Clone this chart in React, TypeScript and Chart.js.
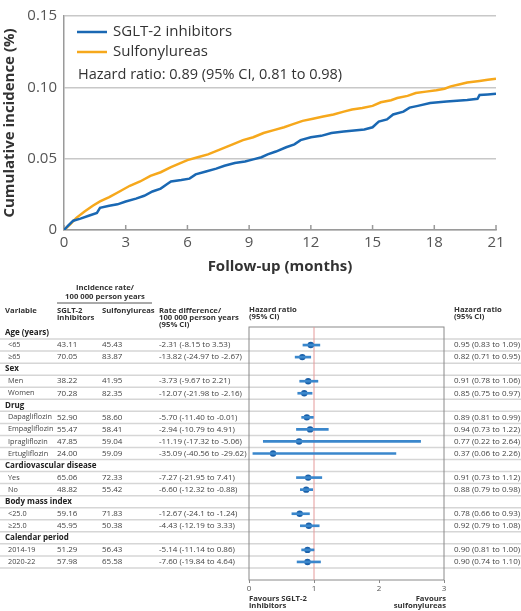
import React, { useEffect, useRef } from "react";
import { Chart, registerables } from "chart.js";

Chart.register(...registerables);

const FONT = "'Open Sans', 'Noto Sans', sans-serif";
const BLUE = "#1a68b3";
const ORANGE = "#f6a81c";
const BAR_BLUE = "#3a87cc";
const DOT_BLUE = "#1a5fa8";

// ---------- Cumulative incidence (top) ----------
const sgltMonths = [0, 0.2, 0.45, 0.8, 1.2, 1.6, 1.75, 2.2, 2.6, 3.0, 3.5, 3.9, 4.3, 4.7, 5.0, 5.2, 5.7, 6.1, 6.4, 6.9, 7.4, 7.8, 8.3, 8.8, 9.2, 9.6, 9.9, 10.3, 10.8, 11.2, 11.5, 12.0, 12.5, 13.0, 13.6, 14.6, 15.0, 15.3, 15.7, 16.0, 16.5, 16.8, 17.2, 17.8, 18.6, 19.6, 20.1, 20.2, 20.6, 21.0];
const sgltIncidence = [0, 0.003, 0.0065, 0.008, 0.010, 0.012, 0.0155, 0.017, 0.018, 0.020, 0.022, 0.024, 0.027, 0.029, 0.032, 0.034, 0.035, 0.036, 0.039, 0.041, 0.043, 0.045, 0.047, 0.048, 0.0495, 0.051, 0.053, 0.055, 0.058, 0.060, 0.063, 0.065, 0.066, 0.068, 0.069, 0.0705, 0.072, 0.076, 0.0775, 0.081, 0.083, 0.0858, 0.087, 0.089, 0.090, 0.0912, 0.092, 0.0946, 0.095, 0.0955];
const sulfMonths = [0, 0.3, 0.6, 1.0, 1.4, 1.75, 2.2, 2.7, 3.2, 3.7, 4.2, 4.7, 5.2, 5.6, 6.0, 6.5, 7.0, 7.6, 8.2, 8.7, 9.2, 9.7, 10.2, 10.7, 11.1, 11.6, 12.1, 12.6, 13.1, 13.6, 14.0, 14.5, 15.0, 15.4, 15.9, 16.2, 16.7, 17.1, 17.6, 18.1, 18.5, 18.8, 19.2, 19.6, 20.2, 20.6, 21.0];
const sulfIncidence = [0, 0.004, 0.0085, 0.013, 0.017, 0.020, 0.023, 0.027, 0.031, 0.034, 0.038, 0.0405, 0.044, 0.0465, 0.049, 0.051, 0.053, 0.0565, 0.060, 0.063, 0.065, 0.068, 0.070, 0.072, 0.074, 0.0765, 0.078, 0.0795, 0.081, 0.083, 0.0845, 0.0855, 0.087, 0.0895, 0.091, 0.0925, 0.094, 0.096, 0.097, 0.098, 0.099, 0.1007, 0.102, 0.1034, 0.1045, 0.1053, 0.106];
const monthTicks = [0, 3, 6, 9, 12, 15, 18, 21];
const incidenceTicks = [0, 0.05, 0.1, 0.15];
const seriesLabels = ["SGLT-2 inhibitors", "Sulfonylureas"];
const hazardNote = "Hazard ratio: 0.89 (95% CI, 0.81 to 0.98)";

// ---------- Forest table (bottom) ----------
const rowLabels = ["Age (years)", "<65", "≥65", "Sex", "Men", "Women", "Drug", "Dapagliflozin", "Empagliflozin", "Ipragliflozin", "Ertugliflozin", "Cardiovascular disease", "Yes", "No", "Body mass index", "<25.0", "≥25.0", "Calendar period", "2014-19", "2020-22", ""];
const isSection = [true, false, false, true, false, false, true, false, false, false, false, true, false, false, true, false, false, true, false, false, false];
const sgltRate = ["", "43.11", "70.05", "", "38.22", "70.28", "", "52.90", "55.47", "47.85", "24.00", "", "65.06", "48.82", "", "59.16", "45.95", "", "51.29", "57.98", ""];
const sulfRate = ["", "45.43", "83.87", "", "41.95", "82.35", "", "58.60", "58.41", "59.04", "59.09", "", "72.33", "55.42", "", "71.83", "50.38", "", "56.43", "65.58", ""];
const rateDiff = ["", "-2.31 (-8.15 to 3.53)", "-13.82 (-24.97 to -2.67)", "", "-3.73 (-9.67 to 2.21)", "-12.07 (-21.98 to -2.16)", "", "-5.70 (-11.40 to -0.01)", "-2.94 (-10.79 to 4.91)", "-11.19 (-17.32 to -5.06)", "-35.09 (-40.56 to -29.62)", "", "-7.27 (-21.95 to 7.41)", "-6.60 (-12.32 to -0.88)", "", "-12.67 (-24.1 to -1.24)", "-4.43 (-12.19 to 3.33)", "", "-5.14 (-11.14 to 0.86)", "-7.60 (-19.84 to 4.64)", ""];
const hr = [null, 0.95, 0.82, null, 0.91, 0.85, null, 0.89, 0.94, 0.77, 0.37, null, 0.91, 0.88, null, 0.78, 0.92, null, 0.90, 0.90, null];
const hrLo = [null, 0.83, 0.71, null, 0.78, 0.75, null, 0.81, 0.73, 0.22, 0.06, null, 0.73, 0.79, null, 0.66, 0.79, null, 0.81, 0.74, null];
const hrHi = [null, 1.09, 0.95, null, 1.06, 0.97, null, 0.99, 1.22, 2.64, 2.26, null, 1.12, 0.98, null, 0.93, 1.08, null, 1.00, 1.10, null];
const hrAxisTicks = [0, 1, 2, 3];

const fmt = (v: number | null) => (v == null ? "" : v.toFixed(2));

const kmTicksPlugin = {
  id: "kmTicks",
  beforeDatasetsDraw(chart: any) {
    const { ctx, chartArea, scales } = chart;
    ctx.save();
    ctx.strokeStyle = "#9a9a9a";
    ctx.lineWidth = 1.5;
    scales.x.ticks.forEach((t: any) => {
      const px = scales.x.getPixelForValue(t.value);
      ctx.beginPath();
      ctx.moveTo(px, chartArea.bottom);
      ctx.lineTo(px, chartArea.bottom - 5);
      ctx.stroke();
    });
    ctx.restore();
  },
};

const kmLegendPlugin = {
  id: "kmLegend",
  afterDatasetsDraw(chart: any) {
    const { ctx, chartArea } = chart;
    const x0 = chartArea.left + 13;
    ctx.save();
    ctx.font = `15px ${FONT}`;
    ctx.textBaseline = "middle";
    chart.data.datasets.forEach((ds: any, i: number) => {
      const y = chartArea.top + 16 + i * 20;
      ctx.strokeStyle = ds.borderColor;
      ctx.lineWidth = 2.5;
      ctx.beginPath();
      ctx.moveTo(x0, y);
      ctx.lineTo(x0 + 30, y);
      ctx.stroke();
      ctx.fillStyle = "#333";
      ctx.fillText(ds.label, x0 + 36, y);
    });
    ctx.fillStyle = "#333";
    ctx.font = `14.5px ${FONT}`;
    ctx.fillText(hazardNote, chartArea.left + 14, chartArea.top + 59);
    ctx.restore();
  },
};

const tablePlugin = {
  id: "forestTable",
  beforeDatasetsDraw(chart: any) {
    const { ctx, chartArea, scales, width } = chart;
    const ys = scales.y;
    const xs = scales.x;
    ctx.save();
    // row separators
    ctx.strokeStyle = "#d6d6d6";
    ctx.lineWidth = 1.5;
    for (let i = 0; i < rowLabels.length - 1; i++) {
      const y = (ys.getPixelForValue(i) + ys.getPixelForValue(i + 1)) / 2;
      ctx.beginPath();
      ctx.moveTo(0, y);
      ctx.lineTo(width, y);
      ctx.stroke();
    }
    // box
    ctx.strokeStyle = "#8a8a8a";
    ctx.lineWidth = 1;
    ctx.strokeRect(chartArea.left, chartArea.top, chartArea.right - chartArea.left, chartArea.bottom - chartArea.top);
    // null line
    const x1 = xs.getPixelForValue(1);
    ctx.strokeStyle = "#e59a9a";
    ctx.lineWidth = 1;
    ctx.beginPath();
    ctx.moveTo(x1, chartArea.top);
    ctx.lineTo(x1, chartArea.bottom);
    ctx.stroke();

    // table text
    ctx.textBaseline = "middle";
    const body = `8px ${FONT}`;
    const label = `7.3px ${FONT}`;
    const bold = `bold 7.7px ${FONT}`;
    rowLabels.forEach((lab, i) => {
      const y = ys.getPixelForValue(i);
      if (isSection[i]) {
        ctx.font = `bold 8px ${FONT}`;
        ctx.fillStyle = "#222";
        ctx.fillText(lab, 5, y);
      } else if (lab) {
        ctx.fillStyle = "#444";
        ctx.font = label;
        ctx.fillText(lab, 8, y);
        ctx.font = body;
        ctx.fillText(sgltRate[i], 57, y);
        ctx.fillText(sulfRate[i], 102, y);
        ctx.fillText(rateDiff[i], 159, y);
        ctx.fillText(`${fmt(hr[i])} (${fmt(hrLo[i])} to ${fmt(hrHi[i])})`, 454, y);
      }
    });

    // headers
    const top = chartArea.top;
    ctx.font = bold;
    ctx.fillStyle = "#333";
    ctx.textAlign = "center";
    ctx.fillText("Incidence rate/", 105, top - 39);
    ctx.fillText("100 000 person years", 105, top - 30);
    ctx.strokeStyle = "#555";
    ctx.lineWidth = 1;
    ctx.beginPath();
    ctx.moveTo(57, top - 24);
    ctx.lineTo(152, top - 24);
    ctx.stroke();
    ctx.textAlign = "left";
    ctx.fillText("Variable", 5, top - 16);
    ctx.fillText("SGLT-2", 57, top - 16);
    ctx.fillText("inhibitors", 57, top - 9);
    ctx.fillText("Sulfonylureas", 102, top - 16);
    ctx.fillText("Rate difference/", 159, top - 16);
    ctx.fillText("100 000 person years", 159, top - 9);
    ctx.fillText("(95% CI)", 159, top - 2);
    ctx.fillText("Hazard ratio", chartArea.left, top - 17);
    ctx.fillText("(95% CI)", chartArea.left, top - 10);
    ctx.fillText("Hazard ratio", 454, top - 17);
    ctx.fillText("(95% CI)", 454, top - 10);

    // footer
    const b = chartArea.bottom;
    ctx.fillText("Favours SGLT-2", chartArea.left, b + 19);
    ctx.fillText("inhibitors", chartArea.left, b + 26);
    ctx.textAlign = "right";
    ctx.fillText("Favours", chartArea.right + 2, b + 19);
    ctx.fillText("sulfonylureas", chartArea.right + 2, b + 26);
    ctx.restore();
  },
};

export default function App() {
  const kmRef = useRef<HTMLCanvasElement>(null);
  const forestRef = useRef<HTMLCanvasElement>(null);

  useEffect(() => {
    Chart.defaults.font.family = FONT;
    const km = new Chart(kmRef.current as HTMLCanvasElement, {
      type: "line",
      data: {
        datasets: [
          {
            label: seriesLabels[0],
            data: sgltMonths.map((m, i) => ({ x: m, y: sgltIncidence[i] })),
            borderColor: BLUE,
            borderWidth: 2.5,
            pointRadius: 0,
            fill: false,
          },
          {
            label: seriesLabels[1],
            data: sulfMonths.map((m, i) => ({ x: m, y: sulfIncidence[i] })),
            borderColor: ORANGE,
            borderWidth: 2.5,
            pointRadius: 0,
            fill: false,
          },
        ],
      },
      options: {
        animation: false,
        responsive: false,
        layout: { padding: { top: 8, right: 25, left: 0, bottom: 0 } },
        plugins: { legend: { display: false }, tooltip: { enabled: false } },
        scales: {
          x: {
            type: "linear",
            min: 0,
            max: 21,
            afterBuildTicks: (s: any) => {
              s.ticks = monthTicks.map((v) => ({ value: v }));
            },
            afterFit: (s: any) => {
              s.height = 46;
            },
            grid: { display: false, drawTicks: false },
            border: { display: true, color: "#9a9a9a", width: 1.5 },
            ticks: { font: { size: 15 }, color: "#555", padding: 4, maxRotation: 0 },
            title: {
              display: true,
              text: "Follow-up (months)",
              font: { size: 15, weight: "bold" },
              color: "#333",
              padding: { top: 0, bottom: 0 },
            },
          },
          y: {
            type: "linear",
            min: 0,
            max: 0.15,
            afterBuildTicks: (s: any) => {
              s.ticks = incidenceTicks.map((v) => ({ value: v }));
            },
            afterFit: (s: any) => {
              s.width = 64;
            },
            grid: { color: "#c8c8c8", lineWidth: 1.5, drawTicks: false },
            border: { display: true, color: "#9a9a9a", width: 1.5 },
            ticks: {
              font: { size: 15 },
              color: "#555",
              padding: 7,
              callback: (v: any) => (v === 0 ? "0" : Number(v).toFixed(2)),
            },
            title: {
              display: true,
              text: "Cumulative incidence (%)",
              font: { size: 15, weight: "bold" },
              color: "#333",
              padding: { top: 1, bottom: 0 },
            },
          },
        },
      } as any,
      plugins: [kmTicksPlugin, kmLegendPlugin],
    });

    const forest = new Chart(forestRef.current as HTMLCanvasElement, {
      type: "bar",
      data: {
        labels: rowLabels,
        datasets: [
          {
            type: "bar",
            data: hrLo.map((lo, i) => (lo == null ? null : [lo, hrHi[i] as number])) as any,
            backgroundColor: BAR_BLUE,
            barThickness: 2,
            borderWidth: 0,
          },
          {
            type: "line",
            indexAxis: "y",
            data: hr as any,
            showLine: false,
            pointRadius: 3.2,
            pointBackgroundColor: DOT_BLUE,
            pointBorderWidth: 0,
          } as any,
        ],
      },
      options: {
        animation: false,
        responsive: false,
        indexAxis: "y",
        layout: { padding: { top: 51, left: 249, right: 77, bottom: 0 } },
        plugins: { legend: { display: false }, tooltip: { enabled: false } },
        scales: {
          x: {
            type: "linear",
            min: 0,
            max: 3,
            afterBuildTicks: (s: any) => {
              s.ticks = hrAxisTicks.map((v) => ({ value: v }));
            },
            afterFit: (s: any) => {
              s.height = 31;
            },
            grid: { drawOnChartArea: false, drawTicks: true, tickLength: 3, color: "#8a8a8a" },
            border: { display: false },
            ticks: { font: { size: 8 }, color: "#555", padding: 1, maxRotation: 0 },
          },
          y: {
            type: "category",
            display: false,
          },
        },
      } as any,
      plugins: [tablePlugin],
    });

    return () => {
      km.destroy();
      forest.destroy();
    };
  }, []);

  return (
    <div style={{ position: "absolute", left: 0, top: 0, width: 521, height: 611, background: "#fff" }}>
      <canvas
        ref={kmRef}
        width={521}
        height={276}
        style={{ position: "absolute", left: 0, top: 0, width: 521, height: 276 }}
      />
      <canvas
        ref={forestRef}
        width={521}
        height={335}
        style={{ position: "absolute", left: 0, top: 276, width: 521, height: 335 }}
      />
    </div>
  );
}
